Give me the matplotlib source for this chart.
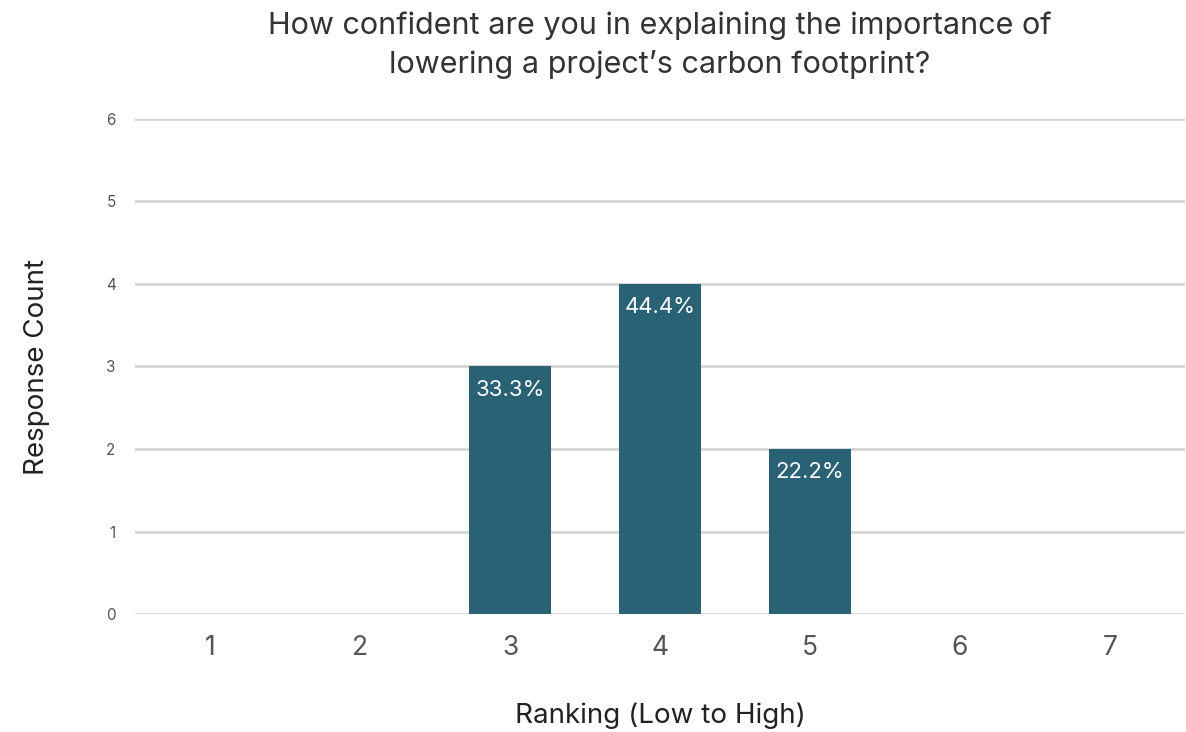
import numpy as np
from matplotlib import pyplot as plt

plt.rcParams['font.family'] = ['Inter', 'DejaVu Sans']

rankings = ['1', '2', '3', '4', '5', '6', '7']
counts = [0, 0, 3, 4, 2, 0, 0]
pct_labels = ['', '', '33.3%', '44.4%', '22.2%', '', '']

fig = plt.figure(figsize=(11.86, 7.32), dpi=100)
ax = fig.add_axes([135/1186, 118/732, 1050/1186, 495/732])

x = np.arange(1, len(rankings) + 1)
bars = ax.bar(x, counts, width=0.55, color='#2a6275', zorder=3)

for b, lab, c in zip(bars, pct_labels, counts):
    if c > 0:
        ax.text(b.get_x() + b.get_width()/2, c - 0.28, lab, ha='center', va='center',
                color='white', fontsize=16, zorder=4)

ax.set_xlim(0.5, 7.5)
ax.set_ylim(0, 6)
ax.set_yticks(range(0, 7))
ax.set_xticks(x)
ax.set_xticklabels(rankings)
ax.grid(axis='y', color='#d0d0d0', linewidth=1.8, zorder=0)
for s in ax.spines.values():
    s.set_visible(False)
ax.tick_params(axis='x', length=0, labelsize=19, labelcolor='#555555', pad=15)
ax.tick_params(axis='y', length=0, labelsize=11, labelcolor='#555555', pad=14)

ax.set_xlabel('Ranking (Low to High)', fontsize=20, color='#222222', labelpad=30)
ax.set_ylabel('Response Count', fontsize=20, color='#222222', labelpad=40)
fig.text(660/1186, 1 - 45/732,
         'How confident are you in explaining the importance of\nlowering a project\u2019s carbon footprint?',
         ha='center', va='center', fontsize=22, color='#333333', linespacing=1.45)

fig.savefig('out.png', dpi=100)
